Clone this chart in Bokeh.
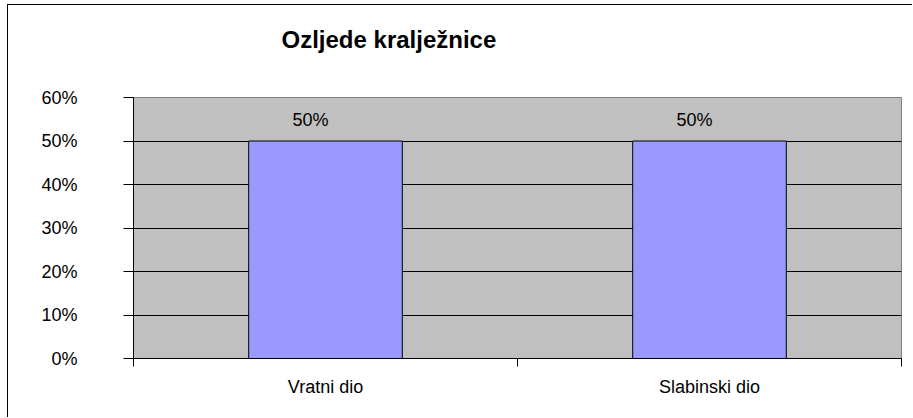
from bokeh.plotting import figure
from bokeh.models import ColumnDataSource, FixedTicker, NumeralTickFormatter, LabelSet, Title, Range1d
from bokeh.core.properties import value
from bokeh.embed import file_html
from bokeh.resources import INLINE

title_text = "Ozljede kralježnice"
categories = ["Vratni dio", "Slabinski dio"]
values = [0.5, 0.5]
value_labels = ["50%", "50%"]
y_ticks = [0.0, 0.1, 0.2, 0.3, 0.4, 0.5, 0.6]

xpos = [i + 0.5 for i in range(len(categories))]
src = ColumnDataSource(dict(x=xpos, top=values, lab=value_labels))

p = figure(width=905, height=413, output_backend="svg", toolbar_location=None, title=None,
           x_range=Range1d(0, len(categories)), y_range=Range1d(0, 0.6),
           min_border_left=125, min_border_right=12, min_border_top=92, min_border_bottom=60)
p.margin = (4, 0, 0, 7)

p.styles = {"border-left": "1px solid black", "border-top": "1px solid black"}

# spacer panel between frame and title
spacer = Title(text=" ", text_font="Liberation Sans", text_font_size="24px", standoff=16)
p.add_layout(spacer, "above")
main_title = Title(text=title_text, text_font="Liberation Sans", text_font_size="24px",
                   text_font_style="bold", text_color="black", align="left",
                   offset=148, standoff=0)
p.add_layout(main_title, "above")

p.background_fill_color = "#C0C0C0"
p.border_fill_color = "white"
p.outline_line_color = "#808080"
p.outline_line_width = 1

p.vbar(x="x", top="top", bottom=0, width=0.4, source=src,
       fill_color="#9999FF", line_color="black", line_width=1)

labels = LabelSet(x="x", y="top", text="lab", source=src, text_align="center",
                  text_baseline="alphabetic", y_offset=15, x_offset=-15,
                  text_font_size=value("18px"), text_font=value("Liberation Sans"),
                  text_color="black")
p.add_layout(labels)

# y axis
p.yaxis.ticker = FixedTicker(ticks=y_ticks)
p.yaxis.formatter = NumeralTickFormatter(format="0%")
p.yaxis.major_tick_out = 10
p.yaxis.major_tick_in = 0
p.yaxis.minor_tick_line_color = None
p.yaxis.major_label_standoff = 46
p.yaxis.major_label_text_font = "Liberation Sans"
p.yaxis.major_label_text_font_size = "18px"
p.yaxis.major_label_text_color = "black"
p.yaxis.axis_line_color = "black"
p.yaxis.major_tick_line_color = "black"

# x axis
p.xaxis.ticker = FixedTicker(ticks=xpos, minor_ticks=[0, 1, 2])
p.xaxis.major_label_overrides = {x: c for x, c in zip(xpos, categories)}
p.xaxis.major_tick_out = 0
p.xaxis.major_tick_in = 0
p.xaxis.minor_tick_out = 8
p.xaxis.minor_tick_in = 0
p.xaxis.minor_tick_line_color = "black"
p.xaxis.major_label_standoff = 10
p.xaxis.major_label_text_font = "Liberation Sans"
p.xaxis.major_label_text_font_size = "18px"
p.xaxis.major_label_text_color = "black"
p.xaxis.axis_line_color = "black"

p.xgrid.grid_line_color = None
p.ygrid.ticker = FixedTicker(ticks=y_ticks)
p.ygrid.grid_line_color = "black"
p.ygrid.grid_line_width = 1

open("out.html", "w").write(file_html(p, INLINE))
